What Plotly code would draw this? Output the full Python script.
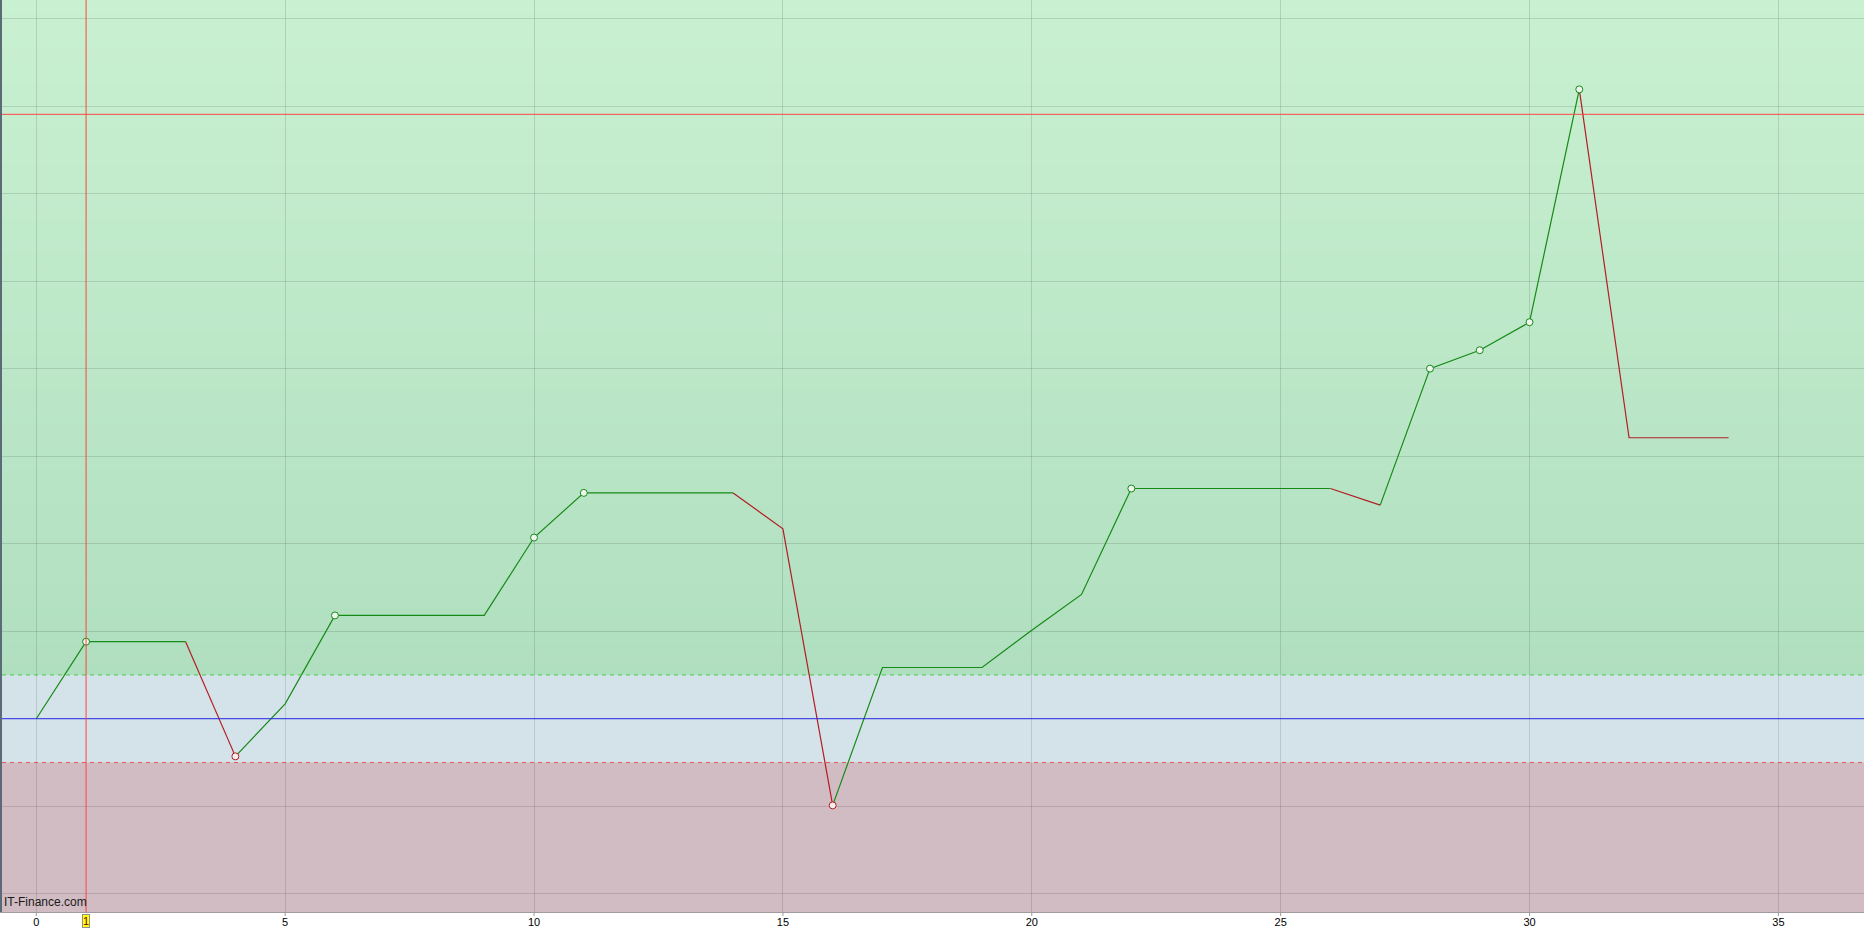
import plotly.graph_objects as go

# ---- data ----
x_vals = list(range(0, 35))
y_vals = [0.0, 8.8, 8.8, 8.8, -4.3, 1.7, 11.8, 11.8, 11.8, 11.8,
          20.7, 25.8, 25.8, 25.8, 25.8, 21.7, -9.9, 5.85, 5.85, 5.85,
          10.1, 14.2, 26.3, 26.3, 26.3, 26.3, 26.3, 24.4, 40.0, 42.1,
          45.3, 71.9, 32.1, 32.1, 32.1]
upper_band = 5.0
lower_band = -5.0
base_level = 0.0
h_cursor = 69.05
v_cursor = 1
x_ticks = [0, 5, 10, 15, 20, 25, 30, 35]
watermark = "IT-Finance.com"

X_RANGE = [-0.689, 36.72]
Y_RANGE = [-22.08, 82.11]

GREEN = "#168a16"
RED = "#b41c24"

fig = go.Figure()

# ---- line segments colored by direction (flat keeps previous color) ----
seg_colors = []
prev = GREEN
for i in range(1, len(y_vals)):
    d = y_vals[i] - y_vals[i - 1]
    if d > 0:
        c = GREEN
    elif d < 0:
        c = RED
    else:
        c = prev
    seg_colors.append(c)
    prev = c

runs = []
start = 0
for i in range(1, len(seg_colors) + 1):
    if i == len(seg_colors) or seg_colors[i] != seg_colors[start]:
        runs.append((start, i, seg_colors[start]))
        start = i
for s, e, c in runs:
    fig.add_trace(go.Scatter(x=x_vals[s:e + 1], y=y_vals[s:e + 1], mode="lines",
                             line=dict(color=c, width=1.2), hoverinfo="skip",
                             showlegend=False))

# ---- record markers (new highs / new lows) ----
hi_x, hi_y, lo_x, lo_y = [], [], [], []
mx = mn = y_vals[0]
for xv, yv in zip(x_vals[1:], y_vals[1:]):
    if yv > mx:
        hi_x.append(xv); hi_y.append(yv); mx = yv
    elif yv < mn:
        lo_x.append(xv); lo_y.append(yv); mn = yv
fig.add_trace(go.Scatter(x=hi_x, y=hi_y, mode="markers",
                         marker=dict(symbol="circle", size=7, color="#eef4ee",
                                     line=dict(color=GREEN, width=1)),
                         showlegend=False))
fig.add_trace(go.Scatter(x=lo_x, y=lo_y, mode="markers",
                         marker=dict(symbol="circle", size=7, color="#f4eeee",
                                     line=dict(color=RED, width=1)),
                         showlegend=False))

# ---- background zones ----
shapes = []
top_c = (201, 241, 209)
bot_c = (176, 223, 192)
n = 60
y0 = upper_band
y1 = Y_RANGE[1] + 1
step = (y1 - y0) / n
for k in range(n):
    t = (k + 0.5) / n
    col = tuple(round(bot_c[j] + (top_c[j] - bot_c[j]) * t) for j in range(3))
    shapes.append(dict(type="rect", xref="paper", yref="y", x0=0, x1=1,
                       y0=y0 + k * step, y1=y0 + (k + 1) * step + step * 0.05,
                       fillcolor="rgb(%d,%d,%d)" % col, line=dict(width=0),
                       layer="below"))
shapes.append(dict(type="rect", xref="paper", yref="y", x0=0, x1=1,
                   y0=lower_band, y1=upper_band, fillcolor="#d4e3ea",
                   line=dict(width=0), layer="below"))
shapes.append(dict(type="rect", xref="paper", yref="y", x0=0, x1=1,
                   y0=Y_RANGE[0] - 1, y1=lower_band, fillcolor="#d1bcc3",
                   line=dict(width=0), layer="below"))

shapes.append(dict(type="line", xref="paper", yref="y", x0=0, x1=1,
                   y0=upper_band, y1=upper_band,
                   line=dict(color="#44cc44", width=1, dash="4px,4px")))
shapes.append(dict(type="line", xref="paper", yref="y", x0=0, x1=1,
                   y0=lower_band, y1=lower_band,
                   line=dict(color="#e05858", width=1, dash="4px,4px")))
shapes.append(dict(type="line", xref="paper", yref="y", x0=0, x1=1,
                   y0=base_level, y1=base_level,
                   line=dict(color="#2a2ae6", width=1)))
shapes.append(dict(type="line", xref="paper", yref="y", x0=0, x1=1,
                   y0=h_cursor, y1=h_cursor,
                   line=dict(color="#ff4444", width=1)))
shapes.append(dict(type="line", xref="x", yref="paper", x0=v_cursor, x1=v_cursor,
                   y0=0, y1=1, line=dict(color="#ff4444", width=1)))
# tick marks below the axis
for tv in x_ticks:
    shapes.append(dict(type="line", xref="x", yref="paper", x0=tv, x1=tv,
                       y0=0, y1=-4.0 / 912, line=dict(color="#9a9a9a", width=1)))

fig.update_layout(
    width=1864, height=928,
    margin=dict(l=2, r=0, t=0, b=16, pad=0, autoexpand=False),
    paper_bgcolor="white",
    plot_bgcolor="#d4e3ea",
    shapes=shapes,
    showlegend=False,
    font=dict(family="Liberation Sans, Arial, sans-serif", size=11, color="black"),
    annotations=[
        dict(text=watermark, xref="paper", yref="paper", x=0, y=0,
             xanchor="left", yanchor="bottom", xshift=0, yshift=1,
             showarrow=False, font=dict(size=12, color="#1a1a1a")),
        dict(text=str(v_cursor), xref="x", yref="paper", x=v_cursor, y=0,
             xanchor="center", yanchor="top", yshift=-2, showarrow=False,
             bgcolor="#ffff00", bordercolor="#909090", borderwidth=1, borderpad=0,
             font=dict(size=11, color="#7a0000")),
    ],
)
fig.update_xaxes(range=X_RANGE, tickmode="array", tickvals=x_ticks,
                 ticktext=[str(t) for t in x_ticks], automargin=False,
                 showgrid=True, gridcolor="rgba(0,0,0,0.12)", gridwidth=1,
                 zeroline=False, ticks="",
                 showline=True, linecolor="#a39aa0", linewidth=1)
fig.update_yaxes(range=Y_RANGE, dtick=10, tick0=0, showticklabels=False,
                 automargin=False,
                 showgrid=True, gridcolor="rgba(0,0,0,0.12)", gridwidth=1,
                 zeroline=False, ticks="", showline=True, linecolor="#5a6a78",
                 linewidth=2)

fig.write_html("out.html", config={"displayModeBar": False},
               post_script="document.body.style.margin='0';document.body.style.overflow='hidden';")
